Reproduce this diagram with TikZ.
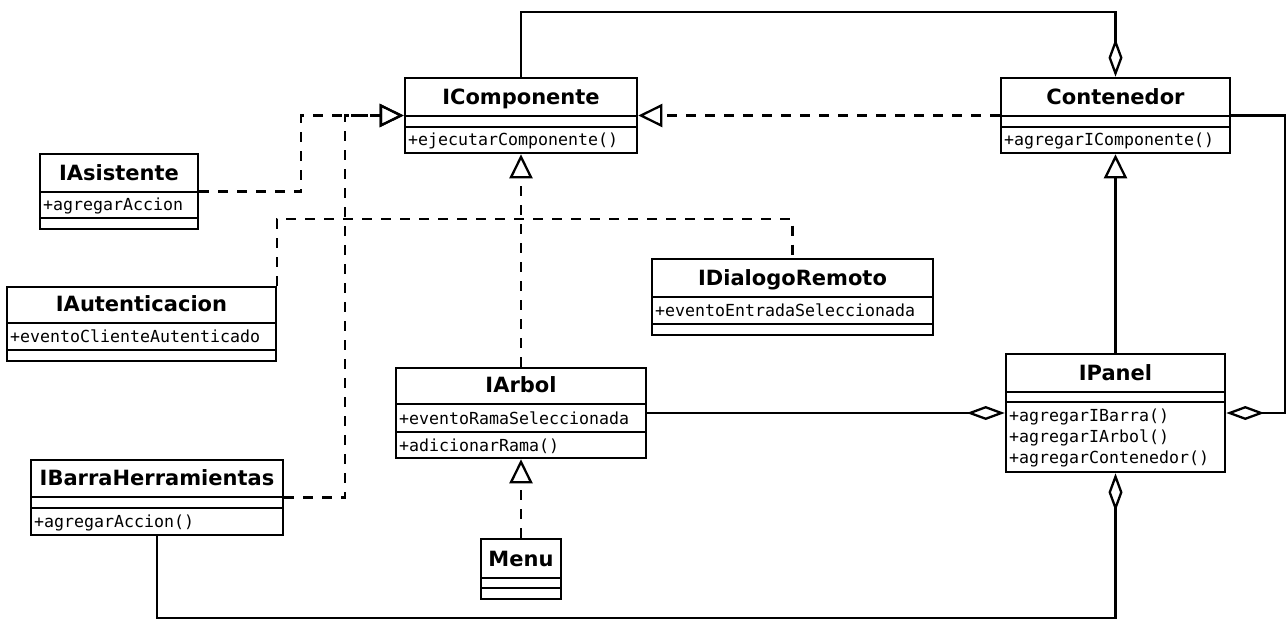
\documentclass[tikz,border=0pt]{standalone}
\usepackage{fontspec}
\setsansfont{DejaVu Sans}
\newfontfamily\membfont{DejaVu Sans Mono}
\usetikzlibrary{arrows.meta}

% class box: name, left, top, right, bottom, first separator, second separator, title
\newcommand{\umlclass}[8]{%
  \node[classbox, minimum width={#4-#2}, minimum height={#5-#3}] (#1) at ({(#2+#4)/2},{(#3+#5)/2}) {};
  \draw[classline] (#2,#6) -- (#4,#6);
  \draw[classline] (#2,#7) -- (#4,#7);
  \node[classtitle] (#1-title) at ({(#2+#4)/2},{#6-12}) {#8};
}

\begin{document}
\begin{tikzpicture}[x=1pt,y=-1pt,
  classbox/.style={draw,line width=2.6pt,fill=white,inner sep=0pt},
  classline/.style={line width=2.6pt},
  classtitle/.style={anchor=base,inner sep=0pt,font=\sffamily\bfseries\fontsize{21}{24}\selectfont},
  member/.style={anchor=base west,inner sep=0pt,font={\membfont\fontsize{16.6}{18}\selectfont}},
  solidlink/.style={line width=2.3pt},
  dashedlink/.style={line width=2.3pt,dash pattern=on 10pt off 9pt},
  realizetip/.style={-{Triangle[open,length=24pt,width=23pt]}},
  aggtip/.style={-{Diamond[open,length=38pt,width=14pt]}}]

\useasboundingbox (0,0) rectangle (1287,619);

\umlclass{comp}{405}{78}{637}{153}{116}{127}{IComponente}
\umlclass{cont}{1001}{78}{1230}{153}{116}{127}{Contenedor}
\umlclass{asis}{40}{154}{198}{229}{192}{218}{IAsistente}
\umlclass{aut}{7}{287}{276}{361}{323}{350}{IAutenticacion}
\umlclass{dial}{652}{259}{933}{335}{297}{324}{IDialogoRemoto}
\umlclass{arbol}{396}{368}{646}{458}{404}{432}{IArbol}
\umlclass{panel}{1006}{354}{1225}{472}{392}{402}{IPanel}
\umlclass{barra}{31}{460}{283}{535}{497}{508}{IBarraHerramientas}
\umlclass{menu}{481}{539}{561}{599}{578}{588}{Menu}

\node[member] (comp-m1) at (408,145.5) {+ejecutarComponente()};
\node[member] (cont-m1) at (1004,145.5) {+agregarIComponente()};
\node[member] (asis-a1) at (43,210.5) {+agregarAccion};
\node[member] (aut-a1) at (10,342.5) {+eventoClienteAutenticado};
\node[member] (dial-a1) at (655,316.5) {+eventoEntradaSeleccionada};
\node[member] (arbol-a1) at (399,424.5) {+eventoRamaSeleccionada};
\node[member] (arbol-m1) at (399,451.5) {+adicionarRama()};
\node[member] (panel-m1) at (1009,421.7) {+agregarIBarra()};
\node[member] (panel-m2) at (1009,442.5) {+agregarIArbol()};
\node[member] (panel-m3) at (1009,463.3) {+agregarContenedor()};
\node[member] (barra-m1) at (34,527.5) {+agregarAccion()};

% realizations of IComponente
\draw[dashedlink,realizetip] (cont.west) -- (comp.east);
\draw[dashedlink,realizetip] (asis.east) -- ++(102,0) |- (comp.west);
\draw[dashedlink,realizetip] (barra.east) -- ++(61,0) |- (comp.west);
\draw[dashedlink,realizetip] (arbol.north) -- (comp.south);
\draw[dashedlink,realizetip] (menu.north) -- (arbol.south);
\draw[dashedlink] (aut.north east) -- ++(0,-67) -| (dial.north);

% generalization and aggregations
\draw[solidlink,realizetip] (panel.north) -- (cont.south);
\draw[solidlink,aggtip] (comp.north) -- ++(0,-65) -| (cont.north);
\draw[solidlink,aggtip] (cont.east) -- ++(54,0) |- (panel.east);
\draw[solidlink,aggtip] (arbol.east) -- (panel.west);
\draw[solidlink,aggtip] (barra.south) -- ++(0,81.5) -| (panel.south);

\end{tikzpicture}
\end{document}
